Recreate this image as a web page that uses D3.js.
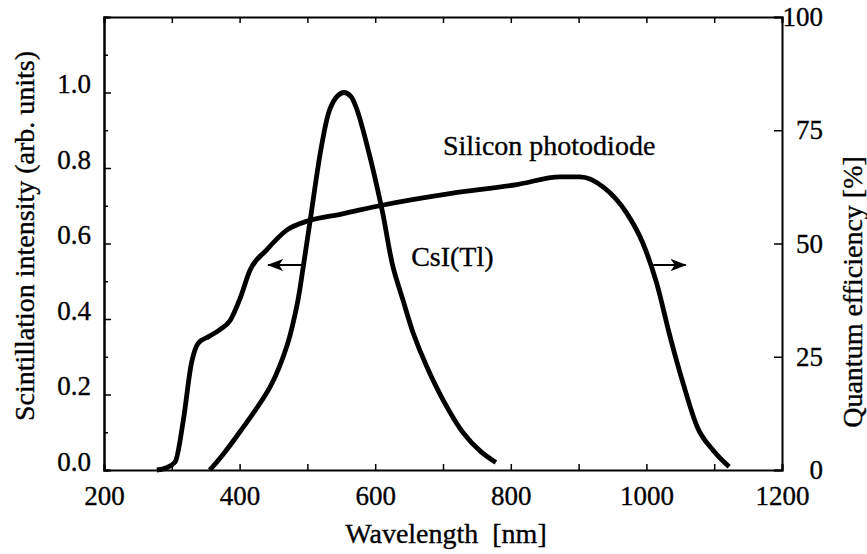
<!DOCTYPE html>
<html>
<head>
<meta charset="utf-8">
<script src="https://cdn.jsdelivr.net/npm/d3@7"></script>
<style>
  body { margin: 0; background: #fff; }
  svg text { font-family: "Liberation Serif", "DejaVu Serif", serif; fill: #000; stroke: #000; stroke-width: 0.35px; }
  .tick text { font-size: 27px; }
  .label { font-size: 28px; white-space: pre; }
</style>
</head>
<body>
<svg id="chart"></svg>
<script>
// CsI(Tl) scintillation spectrum (left axis, arb. units)
const csiWavelength = [356, 375, 400, 445, 470, 485, 494, 504, 521, 533, 544, 554, 564, 573, 588, 610, 626, 641, 656, 676, 700, 730, 755, 778];
const csiIntensity  = [0, 0.04, 0.10, 0.22, 0.33, 0.44, 0.54, 0.66, 0.86, 0.955, 0.99, 1.0, 0.99, 0.955, 0.86, 0.69, 0.54, 0.45, 0.363, 0.274, 0.186, 0.098, 0.05, 0.02];

// Silicon photodiode quantum efficiency (right axis, %)
const siWavelength = [278, 292, 305, 317, 329, 339, 355, 371, 386, 401, 415, 440, 470, 501, 550, 612, 710, 809, 873, 902, 936, 971, 995, 1015, 1035, 1054, 1075, 1098, 1122];
const siEfficiency = [0, 0.5, 1.8, 11, 23.6, 28, 29.5, 31, 33, 38, 44, 48.6, 53, 55, 56.5, 58.5, 61, 63, 64.7, 64.7, 62.5, 56.7, 50, 41.3, 29.4, 19.2, 9.5, 4.4, 0.7];

const xTicks = [200, 300, 400, 500, 600, 700, 800, 900, 1000, 1100, 1200];
const leftTicks = [0, 0.2, 0.4, 0.6, 0.8, 1.0];
const leftMinorTicks = [0.1, 0.3, 0.5, 0.7, 0.9, 1.1];
const rightTicks = [0, 25, 50, 75, 100];

const width = 867;
const height = 554;
const margin = { top: 17, right: 85, bottom: 84, left: 104 };

const svg = d3.select("#chart").attr("width", width).attr("height", height);

const x = d3.scaleLinear().domain([200, 1200]).range([margin.left, width - margin.right]);
const yL = d3.scaleLinear().domain([0, 1.2]).range([height - margin.bottom, margin.top]);
const yR = d3.scaleLinear().domain([0, 100]).range([height - margin.bottom, margin.top]);

const csi = csiWavelength.map((w, i) => ({ w, v: csiIntensity[i] }));
const si = siWavelength.map((w, i) => ({ w, v: siEfficiency[i] }));

// curves
svg.append("path")
  .datum(csi)
  .attr("fill", "none")
  .attr("stroke", "#000")
  .attr("stroke-width", 4.8)
  .attr("stroke-linejoin", "round")
  .attr("d", d3.line().x((d) => x(d.w)).y((d) => yL(d.v)).curve(d3.curveCatmullRom.alpha(0.5)));

svg.append("path")
  .datum(si)
  .attr("fill", "none")
  .attr("stroke", "#000")
  .attr("stroke-width", 4.8)
  .attr("stroke-linejoin", "round")
  .attr("d", d3.line().x((d) => x(d.w)).y((d) => yR(d.v)).curve(d3.curveMonotoneX));

// axes, ticks pointing inward
svg.append("g")
  .attr("transform", `translate(0,${height - margin.bottom})`)
  .call(d3.axisBottom(x).tickValues(xTicks).tickSize(-6).tickPadding(16)
    .tickFormat((d) => (d % 200 === 0 ? d : "")));

svg.append("g")
  .attr("transform", `translate(0,${margin.top})`)
  .call(d3.axisTop(x).tickValues(xTicks).tickSize(-6).tickFormat(""));

svg.append("g")
  .attr("transform", `translate(${margin.left},0)`)
  .call(d3.axisLeft(yL).tickValues(leftMinorTicks).tickSize(-4).tickFormat(""));

const leftAxis = svg.append("g")
  .attr("transform", `translate(${margin.left},0)`)
  .call(d3.axisLeft(yL).tickValues(leftTicks).tickSize(-7).tickPadding(13)
    .tickFormat(d3.format(".1f")));
leftAxis.selectAll(".tick text").attr("dy", "0em");

const rightAxis = svg.append("g")
  .attr("transform", `translate(${width - margin.right},0)`)
  .call(d3.axisRight(yR).tickValues(rightTicks).tickSize(-8).tickFormat(d3.format("d")));
rightAxis.selectAll(".tick text").attr("text-anchor", "end").attr("x", 41);

svg.selectAll("g").attr("font-family", null).attr("font-size", null);
svg.selectAll(".domain").attr("stroke", "#000").attr("stroke-width", 2);
svg.selectAll(".tick line").attr("stroke", "#000").attr("stroke-width", 1.5);

// axis titles
svg.append("text")
  .attr("class", "label")
  .attr("text-anchor", "middle")
  .attr("x", (margin.left + width - margin.right) / 2 + 3)
  .attr("y", 543)
  .text("Wavelength  [nm]");

svg.append("text")
  .attr("class", "label")
  .attr("text-anchor", "middle")
  .attr("transform", "translate(34,236) rotate(-90)")
  .text("Scintillation intensity (arb. units)");

svg.append("text")
  .attr("class", "label")
  .attr("text-anchor", "middle")
  .attr("transform", "translate(862,292) rotate(-90)")
  .text("Quantum efficiency [%]");

// annotations
svg.append("text")
  .attr("class", "label")
  .attr("x", x(700))
  .attr("y", yR(69.5))
  .text("Silicon photodiode");

svg.append("text")
  .attr("class", "label")
  .attr("x", x(653))
  .attr("y", yL(0.54))
  .text("CsI(Tl)");

svg.append("defs").append("marker")
  .attr("id", "head")
  .attr("viewBox", "0 0 16 12")
  .attr("refX", 15)
  .attr("refY", 6)
  .attr("markerWidth", 16)
  .attr("markerHeight", 12)
  .attr("markerUnits", "userSpaceOnUse")
  .attr("orient", "auto")
  .append("path")
  .attr("d", "M0,0 L16,6 L0,12 L4,6 Z")
  .attr("fill", "#000");

const arrows = [
  { from: 493, to: 442, y: yL(0.543) },
  { from: 1010, to: 1058, y: yL(0.543) }
];
svg.selectAll(".arrow")
  .data(arrows)
  .join("line")
  .attr("class", "arrow")
  .attr("x1", (d) => x(d.from))
  .attr("x2", (d) => x(d.to))
  .attr("y1", (d) => d.y)
  .attr("y2", (d) => d.y)
  .attr("stroke", "#000")
  .attr("stroke-width", 2)
  .attr("marker-end", "url(#head)");
</script>
</body>
</html>
